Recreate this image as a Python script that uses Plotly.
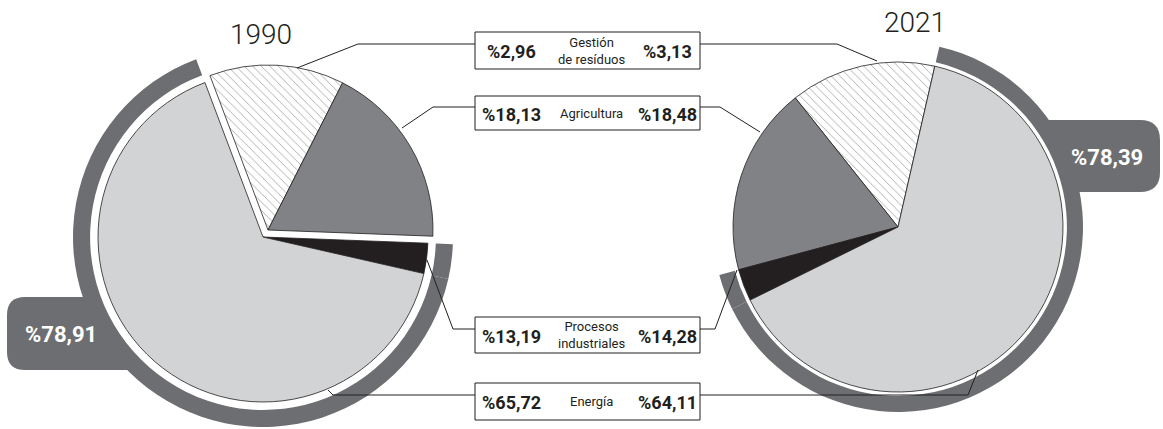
import plotly.graph_objects as go

# ---------------- data ----------------
years = ["1990", "2021"]
sectors = ["Gestión<br>de resíduos", "Agricultura", "Procesos<br>industriales", "Energía"]
share_1990 = [2.96, 18.13, 13.19, 65.72]
share_2021 = [3.13, 18.48, 14.28, 64.11]
badge_values = ["%78,91", "%78,39"]

# ---------------- styling ----------------
W, H = 1163, 429
FONT = "Roboto, DejaVu Sans Condensed, sans-serif"
INK = "#231f20"
LIGHT = "#d1d3d4"
DARK = "#808285"
RING = "#6d6e71"
CLEAR = "rgba(0,0,0,0)"

# slice drawing order (clockwise for 1990, counter-clockwise for 2021)
order = [2, 1, 0, 3]  # Procesos, Agricultura, Gestión, Energía
style_fill = {0: INK, 1: DARK, 2: "white", 3: LIGHT}
style_pattern = {0: "", 1: "", 2: "\\", 3: ""}


def dom(cx, cy, r):
    return dict(x=[(cx - r) / W, (cx + r) / W], y=[1 - (cy + r) / H, 1 - (cy - r) / H])


def pie(values, cx, cy, r, show, rotation, direction, hole=0, ring=False):
    vals = [values[i] for i in order]
    labs = [sectors[i].replace("<br>", " ") for i in order]
    colors, widths, shapes = [], [], []
    for i in order:
        if i in show:
            colors.append(RING if ring else style_fill[i])
            widths.append(0 if ring else 0.8)
            shapes.append("" if ring else style_pattern[i])
        else:
            colors.append(CLEAR)
            widths.append(0)
            shapes.append("")
    return go.Pie(
        values=vals, labels=labs, sort=False, direction=direction, rotation=rotation,
        hole=hole, domain=dom(cx, cy, r), textinfo="none", hoverinfo="label+value",
        showlegend=False,
        marker=dict(colors=colors, line=dict(color=INK, width=widths),
                    pattern=dict(shape=shapes, fgcolor="#a3a3a3", bgcolor="white",
                                 size=6, solidity=0.14)),
    )


fig = go.Figure()

# 1990
fig.add_trace(pie(share_1990, 263, 237, 190, [0, 3], -20.6, "clockwise", hole=0.91, ring=True))
fig.add_trace(pie(share_1990, 263, 237, 165, [0, 3], -20.6, "clockwise"))
fig.add_trace(pie(share_1990, 268, 230, 165, [1, 2], -20.6, "clockwise"))
# 2021
fig.add_trace(pie(share_2021, 898, 227, 185, [0, 3], -38.5, "counterclockwise", hole=0.913, ring=True))
fig.add_trace(pie(share_2021, 898, 227, 165, [0, 1, 2, 3], -38.5, "counterclockwise"))

shapes = []
# badges (behind rings)
shapes.append(dict(type="path", layer="below", xref="x", yref="y", line=dict(width=0), fillcolor=RING,
                   path="M 25,297 L 93,297 L 140,370 L 25,370 Q 7,370 7,352 L 7,315 Q 7,297 25,297 Z"))
shapes.append(dict(type="path", layer="below", xref="x", yref="y", line=dict(width=0), fillcolor=RING,
                   path="M 1036,120 L 1140,120 Q 1160,120 1160,140 L 1160,172 Q 1160,192 1140,192 L 1070,192 Z"))

# boxes
box_y = [(32, 69), (96, 130), (317, 353), (383, 420)]
for y0, y1 in box_y:
    shapes.append(dict(type="rect", xref="x", yref="y", x0=475, x1=700, y0=y0, y1=y1,
                       line=dict(color=INK, width=1), fillcolor="white", layer="above"))

# connector lines
connectors = [
    [(297, 68), (358, 44), (475, 44)],
    [(402, 128), (433, 107), (475, 107)],
    [(427, 260), (453, 329), (475, 329)],
    [(328, 390), (333, 395), (475, 395)],
    [(700, 44), (837, 44), (877, 61)],
    [(700, 107), (720, 107), (760, 132)],
    [(700, 329), (715, 329), (737, 270)],
    [(700, 395), (968, 395), (978, 370)],
]
for pts in connectors:
    p = "M " + " L ".join(f"{x},{y}" for x, y in pts)
    shapes.append(dict(type="path", xref="x", yref="y", path=p, line=dict(color=INK, width=1), layer="above"))

fig.update_layout(shapes=shapes)

ann = []
# titles
ann.append(dict(x=261, y=34, text=years[0], font=dict(family=FONT, size=28, color=INK, weight=300)))
ann.append(dict(x=915, y=22, text=years[1], font=dict(family=FONT, size=28, color=INK, weight=300)))
# badges text
ann.append(dict(x=61, y=334, text=f"<b>{badge_values[0]}</b>", font=dict(family=FONT, size=22, color="white")))
ann.append(dict(x=1107, y=157, text=f"<b>{badge_values[1]}</b>", font=dict(family=FONT, size=22, color="white")))


def pct(v):
    return "%" + f"{v:.2f}".replace(".", ",")


for k, (y0, y1) in enumerate(box_y):
    yc = (y0 + y1) / 2
    ann.append(dict(x=511, y=yc + 1, text=f"<b>{pct(share_1990[k])}</b>", font=dict(family=FONT, size=18, color=INK)))
    ann.append(dict(x=667, y=yc + 1, text=f"<b>{pct(share_2021[k])}</b>", font=dict(family=FONT, size=18, color=INK)))
    ann.append(dict(x=591, y=yc, text=sectors[k], font=dict(family=FONT, size=13, color=INK)))

for a in ann:
    a.update(xref="x", yref="y", showarrow=False, xanchor="center", yanchor="middle")
fig.update_layout(annotations=ann)

fig.update_layout(
    width=W, height=H, margin=dict(l=0, r=0, t=0, b=0),
    paper_bgcolor="white", plot_bgcolor="white",
    xaxis=dict(range=[0, W], visible=False, domain=[0, 1], fixedrange=True),
    yaxis=dict(range=[H, 0], visible=False, domain=[0, 1], fixedrange=True),
)

fig.write_html("out.html", config={"displayModeBar": False},
               post_script="document.body.style.margin='0px';")
